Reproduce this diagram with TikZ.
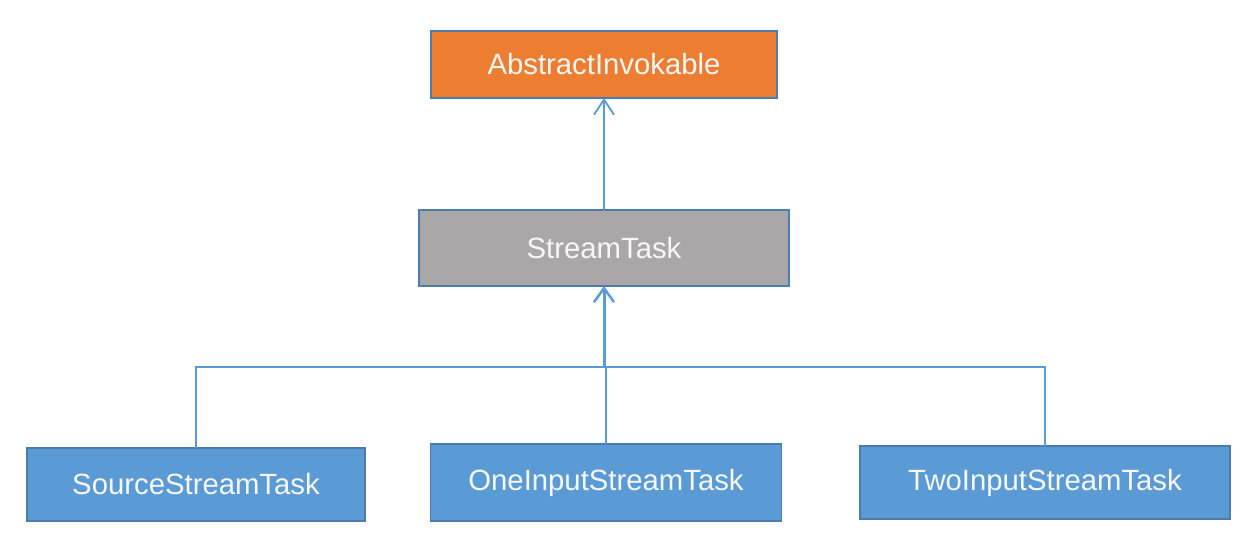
\documentclass[tikz,border=0pt]{standalone}
\usepackage{fontspec}
\setmainfont{Liberation Sans}
\usetikzlibrary{arrows.meta}
\definecolor{orangefill}{HTML}{ED7D31}
\definecolor{grayfill}{HTML}{ABA7A8}
\definecolor{bluefill}{HTML}{5B9BD5}
\definecolor{boxborder}{HTML}{4C7BAE}
\definecolor{linkcol}{HTML}{5B9BD5}
\definecolor{txtcol}{HTML}{F7F7F7}
\begin{document}
\begin{tikzpicture}[x=1pt,y=-1pt,
  box/.style={draw=boxborder, line width=1.6pt, inner sep=0pt, outer sep=0pt,
    text=txtcol, font=\fontsize{29.3}{32}\selectfont},
  link/.style={draw=linkcol, line width=1.8pt},
  linkarrow/.style={link, -{Straight Barb[length=15pt,width=20pt,line width=1.8pt]}},
  linkthick/.style={draw=linkcol, line width=3pt, -{Straight Barb[length=14pt,width=20pt,line width=2.5pt]}}]
\useasboundingbox[fill=white] (0,0) rectangle (1251,544);
\node[box, fill=orangefill, minimum width=346pt, minimum height=67pt] (ai) at (604,64.5) {AbstractInvokable};
\node[box, fill=grayfill, minimum width=370pt, minimum height=76pt] (st) at (604,248) {StreamTask};
\node[box, fill=bluefill, minimum width=338pt, minimum height=73pt] (sst) at (196,484.5) {SourceStreamTask};
\node[box, fill=bluefill, minimum width=351pt, minimum height=77pt] (oist) at (606,482.5) {OneInputStreamTask};
\node[box, fill=bluefill, minimum width=370pt, minimum height=73pt] (tist) at (1045,482.5) {TwoInputStreamTask};
\coordinate (j) at (604,367);
\draw[linkarrow] (st.north) -- (ai.south);
\draw[link] (sst.north) |- (j) -| (tist.north);
\draw[link] (oist.north |- j) -- (oist.north);
\draw[linkthick] (j) -- (st.south);
\end{tikzpicture}
\end{document}
